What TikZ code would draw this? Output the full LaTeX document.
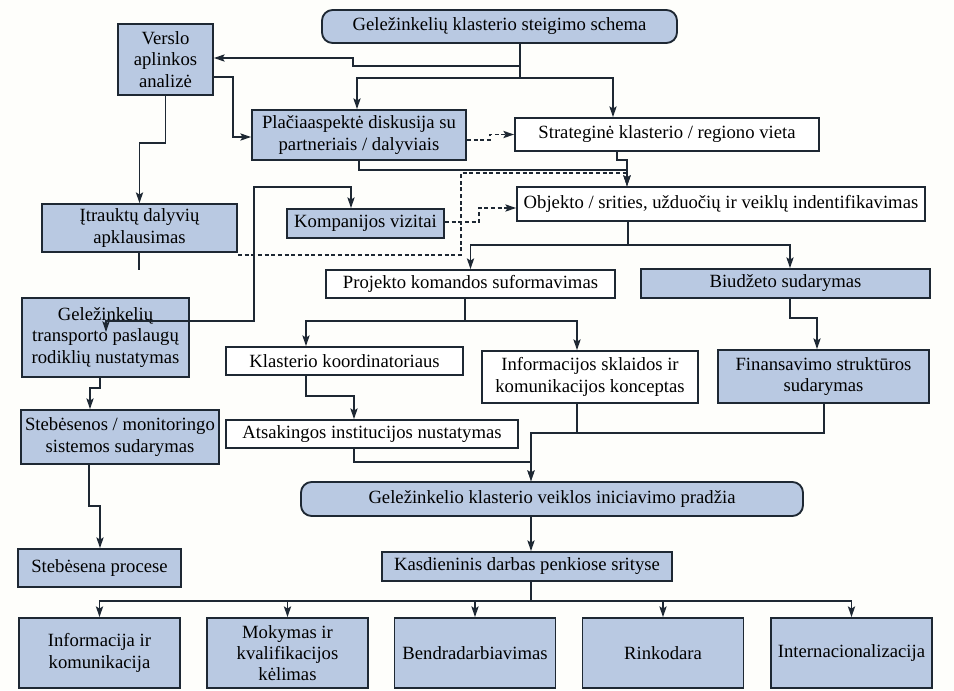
\documentclass[tikz,border=0pt]{standalone}
\usepackage{fontspec}
\setmainfont{Liberation Serif}
\usetikzlibrary{arrows.meta}
\definecolor{ink}{HTML}{1E2833}
\definecolor{boxblue}{HTML}{B9C9E2}
\definecolor{paper}{HTML}{FEFEFB}
\tikzset{
  >={Stealth[length=8pt,width=5.4pt,inset=1.6pt]},
  sz/.style 2 args={minimum width=#1*0.75pt,minimum height=#2*0.75pt},
  wbox/.style={draw=ink,fill=white,line width=1.4pt,align=center,inner sep=1pt,font=\fontsize{14}{16}\selectfont},
  bluebox/.style={wbox,fill=boxblue},
  rbox/.style={bluebox,rounded corners=8pt},
  ln/.style={line width=1.25pt,draw=ink},
  arr/.style={ln,->},
  darr/.style={arr,dash pattern=on 3pt off 2pt}
}
\begin{document}
\begin{tikzpicture}[x=0.75pt,y=-0.75pt]
  \useasboundingbox (0,0) rectangle (954,690);
  \fill[paper] (0,0) rectangle (954,690);
  % boxes, placed at pixel centres of the scheme
  \node[rbox,sz={355}{33}] (title) at (499.5,26.5) {Geležinkelių klasterio steigimo schema};
  \node[bluebox,sz={95}{71}] (verslo) at (165.5,59.5) {Verslo\\aplinkos\\analizė};
  \node[bluebox,sz={214}{50}] (diskusija) at (359,135) {Plačiaaspektė diskusija su\\partneriais / dalyviais};
  \node[wbox,sz={304}{33}] (vieta) at (667,134.5) {Strateginė klasterio / regiono vieta};
  \node[bluebox,sz={195}{48}] (apklausa) at (139.5,228) {Įtrauktų dalyvių\\apklausimas};
  \node[bluebox,sz={157}{29}] (vizitai) at (365.5,223.5) {Kompanijos vizitai};
  \node[wbox,sz={408}{34}] (objektas) at (721,204) {Objekto / srities, užduočių ir veiklų indentifikavimas};
  \node[wbox,sz={289}{28}] (komanda) at (470.5,284) {Projekto komandos suformavimas};
  \node[bluebox,sz={289}{29}] (biudzetas) at (785.5,283.5) {Biudžeto sudarymas};
  \node[bluebox,sz={167}{79}] (rodikliai) at (105.5,337.5) {Geležinkelių\\transporto paslaugų\\rodiklių nustatymas};
  \node[wbox,sz={237}{28}] (koord) at (344.5,361) {Klasterio koordinatoriaus};
  \node[wbox,sz={216}{52}] (sklaida) at (590,377) {Informacijos sklaidos ir\\komunikacijos konceptas};
  \node[bluebox,sz={211}{53}] (finans) at (823.5,376.5) {Finansavimo struktūros\\sudarymas};
  \node[bluebox,sz={198}{54}] (monit) at (120,437) {Stebėsenos / monitoringo\\sistemos sudarymas};
  \node[wbox,sz={292}{28}] (instit) at (372,434) {Atsakingos institucijos nustatymas};
  \node[rbox,sz={502}{34}] (pradzia) at (552,499) {Geležinkelio klasterio veiklos iniciavimo pradžia};
  \node[bluebox,sz={163}{38}] (procese) at (99.5,568) {Stebėsena procese};
  \node[bluebox,sz={290}{29}] (kasdien) at (527,566.5) {Kasdieninis darbas penkiose srityse};
  \foreach \x/\nm/\lab in {99.5/b1/{Informacija ir\\komunikacija},287.5/b2/{Mokymas ir\\kvalifikacijos\\kėlimas},475/b3/{Bendradarbiavimas},663/b4/{Rinkodara},851.5/b5/{Internacionalizacija}}{
    \node[bluebox,sz={161}{70}] (\nm) at (\x,653) {\lab};
  }
  \coordinate (stub) at (139,270);
  \coordinate (inner) at (106,332);
  % dashed links first, solid ones on top
  \draw[darr] (diskusija.east |- 0,140) -- (490,140) |- (vieta.west);
  \draw[darr] (apklausa.east |- 0,255) -- (461,255) |- (627,173) -- (objektas.north -| 627,0);
  \draw[darr] (vizitai.east |- 0,222) -- (479,222) |- (objektas.west |- 0,208);
  % upper part
  \draw[arr] (title.south -| 520,0) -- (520,66) -- (353,66) -- (353,58) -- (verslo.east |- 0,58);
  \draw[arr] (title.south -| 520,0) -- (520,78) -| (diskusija.north -| 357,0);
  \draw[arr] (520,78) -| (vieta.north -| 613,0);
  \draw[arr] (verslo.east |- 0,77) -- (233,77) |- (diskusija.west |- 0,137);
  \draw[arr] (verslo.south) |- (apklausa.north |- 0,143) -- (apklausa.north);
  \draw[arr] (diskusija.south) |- (627,170) -- (objektas.north -| 627,0);
  \draw[arr] (vieta.south -| 617,0) |- (627,160) -- (objektas.north -| 627,0);
  \draw[ln] (apklausa.south -| stub) -- (stub);
  \draw[arr,<->] (inner) -- (106,321) -- (254,321) |- (351,187) -- (vizitai.north -| 351,0);
  % middle part
  \draw[arr] (objektas.south -| 628,0) -- (628,245) -| (komanda.north);
  \draw[arr] (628,245) -| (biudzetas.north -| 790,0);
  \draw[arr] (komanda.south -| 465,0) -- (465,321) -| (koord.north -| 306,0);
  \draw[arr] (465,321) -| (sklaida.north -| 577,0);
  \draw[arr] (biudzetas.south -| 790,0) |- (817,318) -- (finans.north -| 817,0);
  \draw[arr] (rodikliai.south -| 100,0) |- (90,388) -- (monit.north -| 90,0);
  \draw[arr] (monit.south -| 89,0) |- (100,506) -- (procese.north -| 100,0);
  \draw[arr] (koord.south -| 306,0) |- (354,396) -- (instit.north -| 354,0);
  \draw[arr] (instit.south -| 354,0) |- (531,462) -- (pradzia.north -| 531,0);
  \draw[arr] (sklaida.south -| 577,0) |- (531,433) -- (pradzia.north -| 531,0);
  \draw[ln] (finans.south -| 824,0) |- (531,433);
  % lower part
  \draw[arr] (pradzia.south -| 531,0) -- (kasdien.north -| 531,0);
  \foreach \nm in {b1,b2,b3,b4,b5}{
    \draw[arr] (kasdien.south -| 531,0) |- (\nm.north |- 0,601) -- (\nm.north);
  }
\end{tikzpicture}
\end{document}
